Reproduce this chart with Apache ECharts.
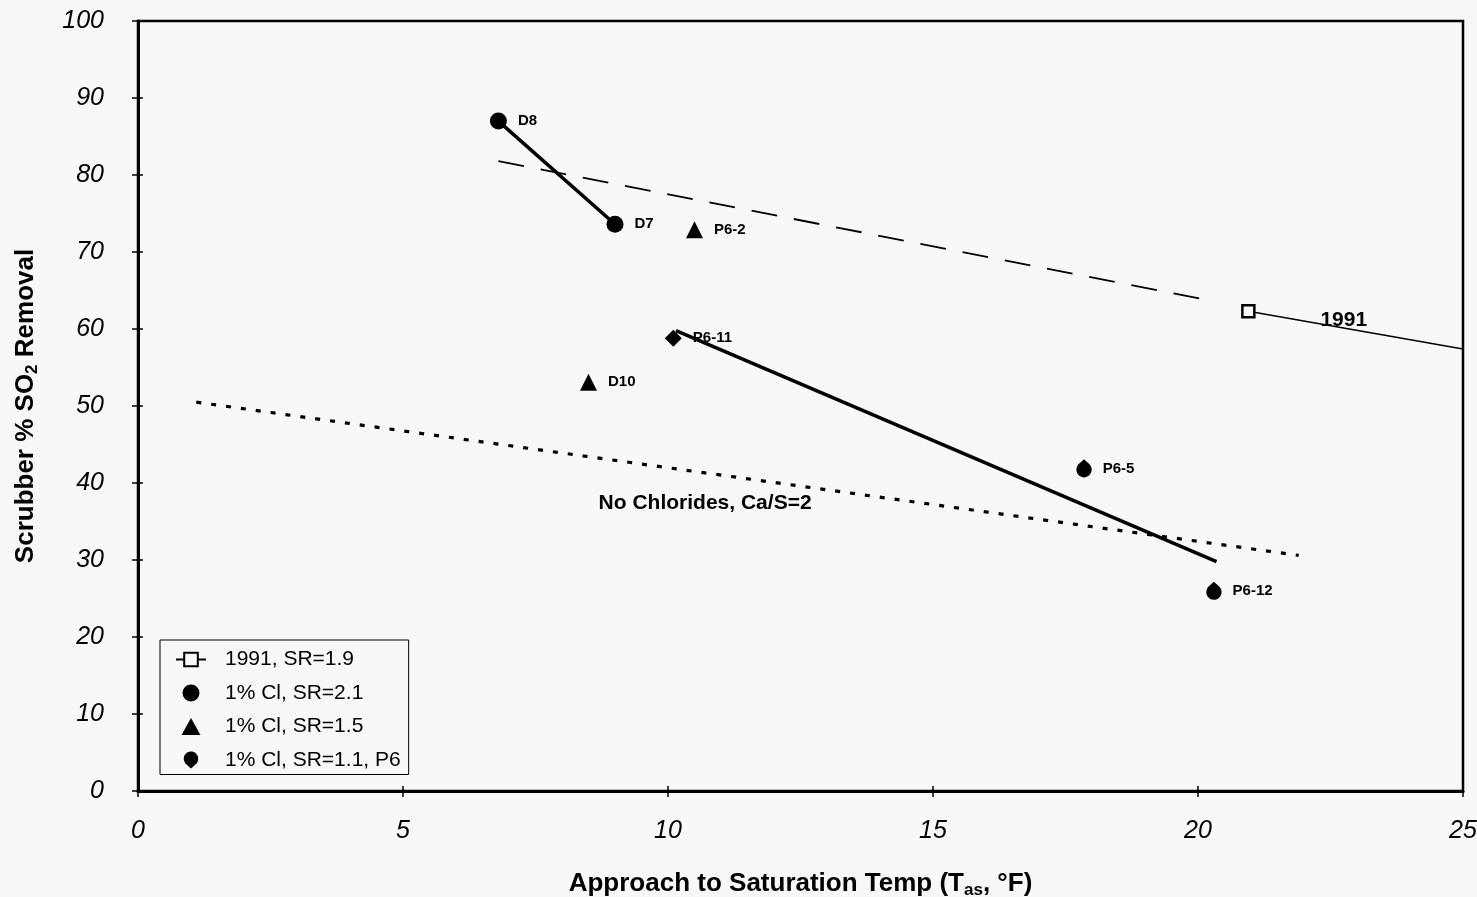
<!DOCTYPE html>
<html>
<head>
<meta charset="utf-8">
<script src="https://cdn.jsdelivr.net/npm/echarts@6/dist/echarts.min.js"></script>
<style>
  html, body { margin: 0; padding: 0; background: #f8f8f8; }
  #chart { width: 1477px; height: 897px; }
</style>
</head>
<body>
<div id="chart"></div>
<script>
// Approach to saturation temperature (°F) vs. scrubber SO2 removal (%)
const sr19Approach = [20.95];
const sr19Removal = [62.3];
const sr19Extension = [[20.95, 62.3], [25.0, 57.4]];

const sr21Approach = [6.8, 9.0];
const sr21Removal = [87.0, 73.6];
const sr21Labels = ['D8', 'D7'];

const sr15Approach = [10.5, 8.5];
const sr15Removal = [72.9, 53.1];
const sr15Labels = ['P6-2', 'D10'];

const p6Approach = [10.1, 17.85, 20.3];
const p6Removal = [58.8, 41.9, 26.0];
const p6Labels = ['P6-11', 'P6-5', 'P6-12'];

// trend lines
const sr21Trend = [[6.8, 87.0], [9.0, 73.6]];
const p6Trend = [[10.15, 59.8], [20.35, 29.8]];
const sr19Trend = [[6.8, 81.8], [20.3, 63.6]];
const noChlorideTrend = [[1.1, 50.5], [21.9, 30.6]];

const annotations = [
  [10.7, 37.4, 'No Chlorides, Ca/S=2'],
  [22.75, 61.1, '1991']
];
const annotationSizes = [21, 21];

const FONT = '"Liberation Sans", Arial, sans-serif';
const p6Symbol = 'path://M10,0 L15.16,4.63 A9,9 0 1 1 4.84,4.63 Z';
const circleIcon = 'path://M10,1 A9,9 0 1 1 9.99,1 Z';
const triangleIcon = 'path://M10,0 L20,18 L0,18 Z';
const p6Icon = 'path://M10,21 L15.16,16.37 A9,9 0 1 0 4.84,16.37 Z';

function pts(xs, ys, names) {
  return xs.map((x, i) => names ? { value: [x, ys[i]], name: names[i] } : [x, ys[i]]);
}

const pointLabel = {
  show: true,
  position: 'right',
  distance: 11,
  formatter: p => p.name,
  fontFamily: FONT,
  fontSize: 15,
  fontWeight: 'bold',
  color: '#000'
};

const axisFont = { fontFamily: FONT, fontSize: 25, fontStyle: 'italic', color: '#000' };
const titleRich = {
  a: { fontFamily: FONT, fontSize: 26, fontWeight: 'bold', color: '#000' },
  s: { fontFamily: FONT, fontSize: 17, fontWeight: 'bold', color: '#000', padding: [14, 0, 0, 0] }
};

const chart = echarts.init(document.getElementById('chart'), null, { renderer: 'canvas' });

const p6Data = pts(p6Approach, p6Removal, p6Labels);
p6Data[0].symbol = 'diamond';
p6Data[0].symbolSize = 17;

chart.setOption({
  backgroundColor: '#f8f8f8',
  animation: false,
  grid: {
    left: 138, right: 14, top: 21, bottom: 106,
    outerBoundsMode: 'none', containLabel: false,
    show: true, borderColor: '#000', borderWidth: 2.5, backgroundColor: 'transparent'
  },
  legend: {
    orient: 'vertical',
    left: 160, top: 640,
    padding: [9, 8, 4, 15],
    itemWidth: 30, itemHeight: 17, itemGap: 12.5,
    symbolKeepAspect: true,
    backgroundColor: '#f8f8f8',
    borderColor: '#000', borderWidth: 1, borderRadius: 0,
    textStyle: { fontFamily: FONT, fontSize: 21, lineHeight: 20, color: '#000', padding: [0, 0, 0, 14] },
    data: [
      { name: '1991, SR=1.9' },
      { name: '1% Cl, SR=2.1', icon: circleIcon },
      { name: '1% Cl, SR=1.5', icon: triangleIcon },
      { name: '1% Cl, SR=1.1, P6', icon: p6Icon }
    ]
  },
  xAxis: [{
    type: 'value', min: 0, max: 25, interval: 5, position: 'bottom',
    name: '{a|Approach to Saturation Temp (T}{s|as}{a|, °F)}',
    nameLocation: 'middle', nameGap: 77,
    nameTextStyle: { rich: titleRich },
    axisLine: { show: true, onZero: false, lineStyle: { color: '#000', width: 3 } },
    axisTick: { show: true, length: 6, lineStyle: { color: '#000', width: 1.5 } },
    axisLabel: Object.assign({ margin: 28 }, axisFont),
    splitLine: { show: false }
  }, {
    // inner half of the crossing tick marks
    type: 'value', min: 0, max: 25, interval: 5, position: 'bottom',
    axisLine: { show: false },
    axisTick: { show: true, inside: true, length: 5, lineStyle: { color: '#000', width: 1.5 } },
    axisLabel: { show: false }, splitLine: { show: false }
  }],
  yAxis: [{
    type: 'value', min: 0, max: 100, interval: 10, position: 'left',
    name: '{a|Scrubber % SO}{s|2}{a| Removal}',
    nameLocation: 'middle', nameGap: 97, nameRotate: 90,
    nameTextStyle: { rich: titleRich },
    axisLine: { show: true, onZero: false, lineStyle: { color: '#000', width: 3 } },
    axisTick: { show: true, length: 6, lineStyle: { color: '#000', width: 1.5 } },
    axisLabel: Object.assign({ margin: 34 }, axisFont),
    splitLine: { show: false }
  }, {
    type: 'value', min: 0, max: 100, interval: 10, position: 'left',
    axisLine: { show: false },
    axisTick: { show: true, inside: true, length: 5, lineStyle: { color: '#000', width: 1.5 } },
    axisLabel: { show: false }, splitLine: { show: false }
  }],
  series: [
    {
      name: 'sr19Trend', type: 'line', data: sr19Trend, symbol: 'none',
      lineStyle: { color: '#000', width: 1.8, type: [26, 17] }, z: 2
    },
    {
      name: 'noChlorideTrend', type: 'line', data: noChlorideTrend, symbol: 'none',
      lineStyle: { color: '#000', width: 3.2, type: [5, 10] }, z: 2
    },
    {
      name: 'p6Trend', type: 'line', data: p6Trend, symbol: 'none',
      lineStyle: { color: '#000', width: 3.5 }, z: 3
    },
    {
      name: 'sr21Trend', type: 'line', data: sr21Trend, symbol: 'none',
      lineStyle: { color: '#000', width: 3.5 }, z: 3
    },
    {
      name: '1991, SR=1.9', type: 'line',
      data: sr19Extension.map((d, i) => ({
        value: d,
        symbol: i === 0 ? 'rect' : 'none'
      })),
      symbol: 'rect', symbolSize: 12, showAllSymbol: true,
      itemStyle: { color: '#f8f8f8', borderColor: '#000', borderWidth: 2.5, opacity: 1 },
      lineStyle: { color: '#000', width: 1.6 }, z: 4
    },
    {
      name: '1% Cl, SR=2.1', type: 'scatter',
      data: pts(sr21Approach, sr21Removal, sr21Labels),
      symbol: 'circle', symbolSize: 17,
      itemStyle: { color: '#000', opacity: 1 }, label: pointLabel, z: 5
    },
    {
      name: '1% Cl, SR=1.5', type: 'scatter',
      data: pts(sr15Approach, sr15Removal, sr15Labels),
      symbol: 'triangle', symbolSize: 17,
      itemStyle: { color: '#000', opacity: 1 }, label: pointLabel, z: 5
    },
    {
      name: '1% Cl, SR=1.1, P6', type: 'scatter',
      data: p6Data,
      symbol: p6Symbol, symbolSize: 18, symbolKeepAspect: true,
      itemStyle: { color: '#000', opacity: 1 }, label: pointLabel, z: 5
    },
    {
      name: 'annotations', type: 'scatter',
      data: annotations.map((a, i) => ({
        value: [a[0], a[1]], name: a[2],
        label: { fontSize: annotationSizes[i] }
      })),
      symbolSize: 0, silent: true,
      itemStyle: { opacity: 1 },
      label: {
        show: true, position: 'inside', formatter: p => p.name,
        fontFamily: FONT, fontWeight: 'bold', color: '#000'
      },
      z: 6
    }
  ]
});
</script>
</body>
</html>
